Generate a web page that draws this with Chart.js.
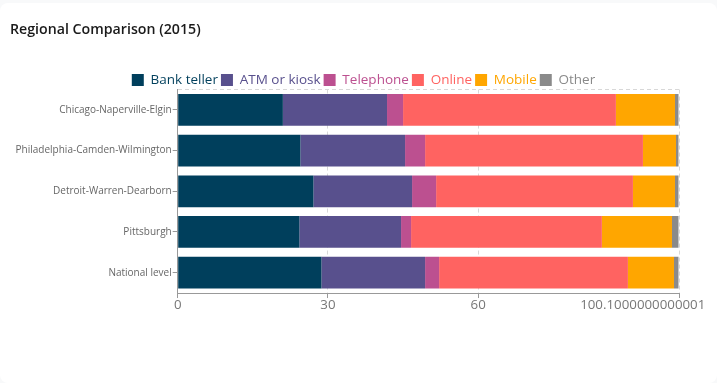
<!DOCTYPE html>
<html>
<head>
<meta charset="utf-8">
<script src="https://cdn.jsdelivr.net/npm/chart.js@4/dist/chart.umd.min.js"></script>
<style>
  html, body { margin: 0; padding: 0; background: #f8f9fa; width: 717px; height: 383px; overflow: hidden; }
  #card { position: absolute; left: 0; top: 3px; width: 717px; height: 380px; background: #fff; border-radius: 8px; }
  #wrap { position: absolute; left: 0; top: 0; width: 717px; height: 383px; }
</style>
</head>
<body>
<div id="card"></div>
<div id="wrap"><canvas id="c" width="717" height="383"></canvas></div>
<script>
const titleText = 'Regional Comparison (2015)';
const categories = ['Chicago-Naperville-Elgin', 'Philadelphia-Camden-Wilmington', 'Detroit-Warren-Dearborn', 'Pittsburgh', 'National level'];
const seriesNames = ['Bank teller', 'ATM or kiosk', 'Telephone', 'Online', 'Mobile', 'Other'];
const seriesColors = ['#003f5c', '#58508d', '#bc5090', '#ff6361', '#ffa600', '#8a8a8a'];
const bankTeller = [21.0, 24.5, 27.1, 24.3, 28.7];
const atmKiosk   = [20.8, 20.9, 19.7, 20.3, 20.7];
const telephone  = [3.2, 4.0, 4.8, 2.0, 2.8];
const online     = [42.5, 43.5, 39.3, 38.1, 37.7];
const mobile     = [11.8, 6.6, 8.4, 14.0, 9.2];
const other      = [0.7, 0.5, 0.7, 1.3, 0.9];
const xTickValues = [0, 30, 60, 100.1000000000001];
const xTickLabels = ['0', '30', '60', '100.1000000000001'];

const seriesValues = [bankTeller, atmKiosk, telephone, online, mobile, other];
const FONT = "'Segoe UI', 'Open Sans', sans-serif";

const datasets = seriesNames.map((name, i) => ({
  label: name,
  data: seriesValues[i],
  backgroundColor: seriesColors[i],
  borderWidth: 0,
  xAxisID: 'x',
  yAxisID: 'y',
  categoryPercentage: 1,
  barPercentage: 0.78
}));

new Chart(document.getElementById('c'), {
  type: 'bar',
  data: { labels: categories, datasets },
  options: {
    indexAxis: 'y',
    responsive: false,
    animation: false,
    layout: { padding: { left: 10, right: 0, top: 0, bottom: 71 } },
    plugins: {
      tooltip: { enabled: false },
      title: {
        display: true,
        text: titleText,
        align: 'start',
        color: '#1a1a1a',
        font: { family: FONT, size: 14.2, weight: '600' },
        padding: { top: 21, bottom: 32.25 }
      },
      legend: {
        display: true,
        position: 'top',
        align: 'center',
        maxHeight: 19.25,
        labels: {
          font: { family: FONT, size: 13.5 },
          boxWidth: 12,
          boxHeight: 12,
          padding: 3,
          generateLabels: (chart) => chart.data.datasets.map((ds, i) => ({
            text: ds.label,
            fillStyle: ds.backgroundColor,
            strokeStyle: ds.backgroundColor,
            lineWidth: 0,
            fontColor: ds.backgroundColor,
            hidden: false,
            datasetIndex: i
          }))
        }
      }
    },
    scales: {
      x: {
        type: 'linear',
        position: 'bottom',
        stacked: true,
        min: 0,
        max: xTickValues[xTickValues.length - 1],
        afterBuildTicks: (scale) => { scale.ticks = xTickValues.map(v => ({ value: v })); },
        afterFit: (scale) => { scale.paddingLeft = 0; scale.paddingRight = 38; },
        ticks: {
          color: '#777',
          font: { family: FONT, size: 13.3 },
          padding: -1,
          maxRotation: 0,
          autoSkip: false,
          callback: (v, i) => i === xTickLabels.length - 1 ? xTickLabels[i] + '                     ' : xTickLabels[i]
        },
        grid: {
          display: true,
          drawOnChartArea: true,
          drawTicks: true,
          tickLength: 5,
          color: '#d8d8d8',
          tickColor: '#999',
          lineWidth: 1
        },
        border: { display: true, color: '#999', width: 1, dash: [4, 3] }
      },
      y: {
        type: 'category',
        position: 'left',
        stacked: true,
        offset: true,
        afterFit: (scale) => { scale.width = 167.7; },
        ticks: {
          color: '#666',
          font: { family: FONT, size: 10 },
          padding: 1,
          autoSkip: false
        },
        grid: {
          display: true,
          offset: false,
          drawOnChartArea: false,
          drawTicks: true,
          tickLength: 5,
          tickColor: '#999'
        },
        border: { display: true, color: '#999', width: 1 }
      },
      yTop: {
        type: 'category',
        position: 'left',
        labels: categories,
        offset: true,
        ticks: { display: false },
        grid: {
          display: true,
          offset: true,
          drawTicks: false,
          drawOnChartArea: true,
          color: (ctx) => ctx.index === 0 ? '#d8d8d8' : 'rgba(0,0,0,0)'
        },
        border: { display: false, dash: [4, 3] }
      }
    }
  }
});
</script>
</body>
</html>
